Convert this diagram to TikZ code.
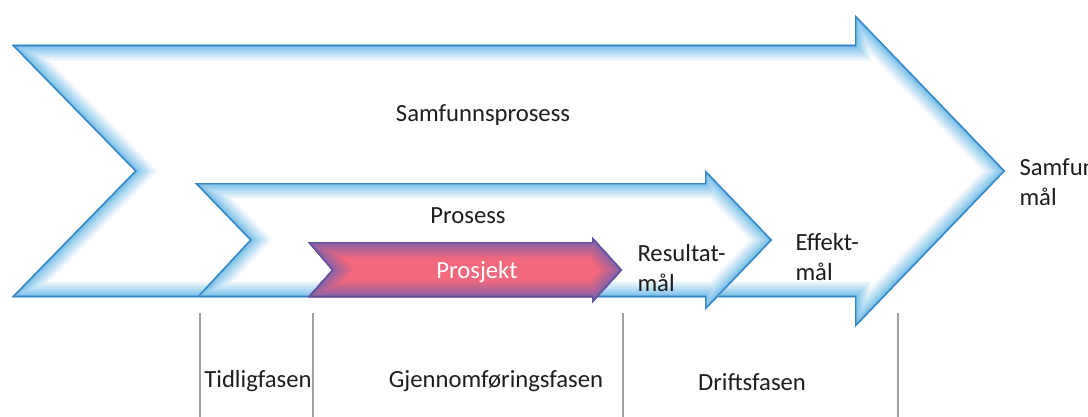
\documentclass[tikz,border=0pt]{standalone}
\usepackage{fontspec}
\setmainfont{Carlito}
\usetikzlibrary{positioning}

\definecolor{glowblue}{RGB}{52,132,196}
\definecolor{glowcyan}{RGB}{110,186,232}
\definecolor{glowpurple}{RGB}{88,86,160}
\definecolor{glowviolet}{RGB}{130,96,170}
\definecolor{prosjektpink}{RGB}{242,104,124}
\definecolor{fasegray}{RGB}{160,160,160}
\definecolor{labeltext}{RGB}{30,30,30}

% outlines of the three arrows
\newcommand{\samfunnspath}{(12,45) -- (855,45) -- (855,15) -- (1005,171) -- (855,327) -- (855,297) -- (12,297) -- (135,171) -- cycle}
\newcommand{\prosesspath}{(195,183) -- (705,183) -- (705,170) -- (772,240) -- (705,310) -- (705,297) -- (197,297) -- (250,240) -- cycle}
\newcommand{\prosjektpath}{(308,242) -- (592,242) -- (592,237) -- (622,270) -- (592,303) -- (592,297) -- (308,297) -- (332,270) -- cycle}

% filled shape with a soft glow along the inside of its edge
\newcommand{\glowshape}[4]{%
  \begin{scope}
    \clip #1;
    \fill[#4] #1;
    \foreach \w [evaluate=\w as \p using {int(100-3.8*\w)}] in {24,22,...,4}
      \draw[line width=\w pt, #3!\p!#4] #1;
    \draw[line width=2.4pt, #2!60!#3] #1;
    \draw[line width=1.2pt, #2] #1;
  \end{scope}}

\tikzset{every picture/.style={line width=0.75pt}}
\tikzset{
  fase/.style={font=\fontsize{18.5}{22.5}\selectfont, text=labeltext, inner sep=0pt},
  maal/.style={fase, align=left, anchor=west},
  skille/.style={draw=fasegray, line width=1.3pt}
}

\begin{document}
\begin{tikzpicture}[x=0.75pt,y=0.75pt,yscale=-1]
\useasboundingbox (0,0) rectangle (1088,417);
\clip (0,0) rectangle (1088,417);
%Shape: Arrow
\glowshape{\samfunnspath}{glowblue}{glowcyan}{white}
%Shape: Arrow
\glowshape{\prosesspath}{glowblue}{glowcyan}{white}
%Shape: Arrow
\glowshape{\prosjektpath}{glowpurple}{glowviolet}{prosjektpink}

%Straight Lines
\coordinate (s1) at (200,313);
\coordinate (s2) at (313,313);
\coordinate (s3) at (623,313);
\coordinate (s4) at (898,313);
\foreach \s in {s1,s2,s3,s4}
  \draw[skille] (\s) -- ++(0,110);

%Text
\node[fase] (samfunnsprosess) at (483,115) {Samfunnsprosess};
\node[fase] (prosess) at (468,216) {Prosess};
\node[fase, text=white] (prosjekt) at (477,272) {Prosjekt};
\node[maal] (resultatmaal) at (637,268) {Resultat-\\mål};
\node[maal] (effektmaal) at (795,257) {Effekt-\\mål};
\node[maal] (samfunnsmaal) at (1019,182) {Samfunns-\\mål};
\node[fase] (tidligfasen) at (258,381) {Tidligfasen};
\node[fase] (gjennomforing) at (496,381) {Gjennomføringsfasen};
\node[fase] (driftsfasen) at (752,382) {Driftsfasen};
\end{tikzpicture}
\end{document}
